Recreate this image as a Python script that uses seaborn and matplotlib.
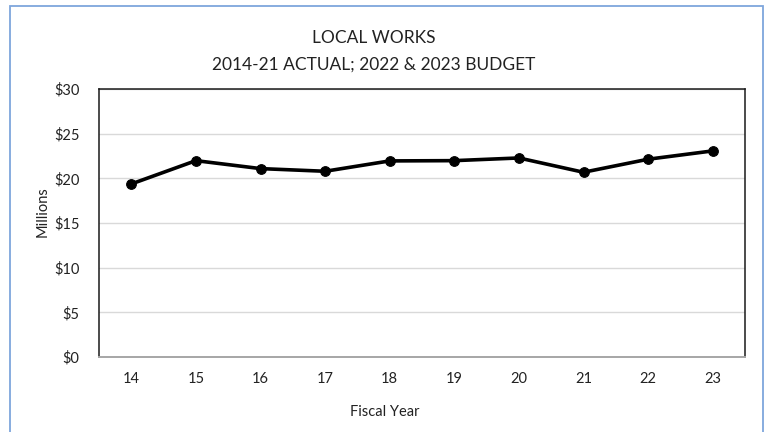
import matplotlib
matplotlib.use("Agg")
import matplotlib.pyplot as plt
import seaborn as sns
import pandas as pd
from matplotlib.patches import Rectangle

# Fiscal years (two-digit) and spending in millions of dollars
years = [14, 15, 16, 17, 18, 19, 20, 21, 22, 23]
spending = [19.37, 21.98, 21.09, 20.79, 21.95, 21.98, 22.28, 20.68, 22.14, 23.07]
y_ticks = [0, 5, 10, 15, 20, 25, 30]
y_tick_labels = ["$0", "$5", "$10", "$15", "$20", "$25", "$30"]

df = pd.DataFrame({"year": years, "spending": spending})

sns.set_theme(style="white")
plt.rcParams["font.family"] = ["Lato", "DejaVu Sans"]

W, H = 768, 432
fig = plt.figure(figsize=(W / 100, H / 100), dpi=100)
ax = fig.add_axes([99 / W, 1 - 357 / H, (745 - 99) / W, (357 - 89) / H])

sns.lineplot(data=df, x="year", y="spending", ax=ax, color="black",
             linewidth=2.6, marker="o", markersize=7, markeredgecolor="black",
             zorder=3)

ax.set_xlim(13.5, 23.5)
ax.set_ylim(0, 30)
ax.set_xticks(years)
ax.set_xticklabels([str(y) for y in years])
ax.set_yticks(y_ticks)
ax.set_yticklabels(y_tick_labels)
ax.tick_params(axis="both", length=0, labelsize=10.5, colors="#222222")
ax.tick_params(axis="x", pad=11)
ax.tick_params(axis="y", pad=14)
ax.yaxis.grid(True, color="#D9D9D9", linewidth=1)
ax.set_axisbelow(True)

for side in ["left", "top", "right"]:
    ax.spines[side].set_color("#1a1a1a")
    ax.spines[side].set_linewidth(1.1)
ax.spines["bottom"].set_color("#A6A6A6")
ax.spines["bottom"].set_linewidth(1.4)

ax.set_xlabel("")
ax.set_ylabel("")
fig.text(43 / W, 1 - 212 / H, "Millions", rotation=90, ha="center", va="center",
         fontsize=10.5, color="#222222")
fig.text(385 / W, 1 - 412 / H, "Fiscal Year", ha="center", va="center",
         fontsize=10.5, color="#222222")
fig.text(374 / W, 1 - 38 / H, "LOCAL WORKS", ha="center", va="center",
         fontsize=12.5, color="#222222")
fig.text(374 / W, 1 - 65 / H, "2014-21 ACTUAL; 2022 & 2023 BUDGET", ha="center",
         va="center", fontsize=12.5, color="#222222")

# Chart-area frame
fig.patches.append(Rectangle((10 / W, -0.05), (763 - 10) / W, 1 - 6 / H + 0.05,
                             transform=fig.transFigure, fill=False,
                             edgecolor="#7EA6DC", linewidth=1.3))

fig.savefig("out.png", dpi=100)
